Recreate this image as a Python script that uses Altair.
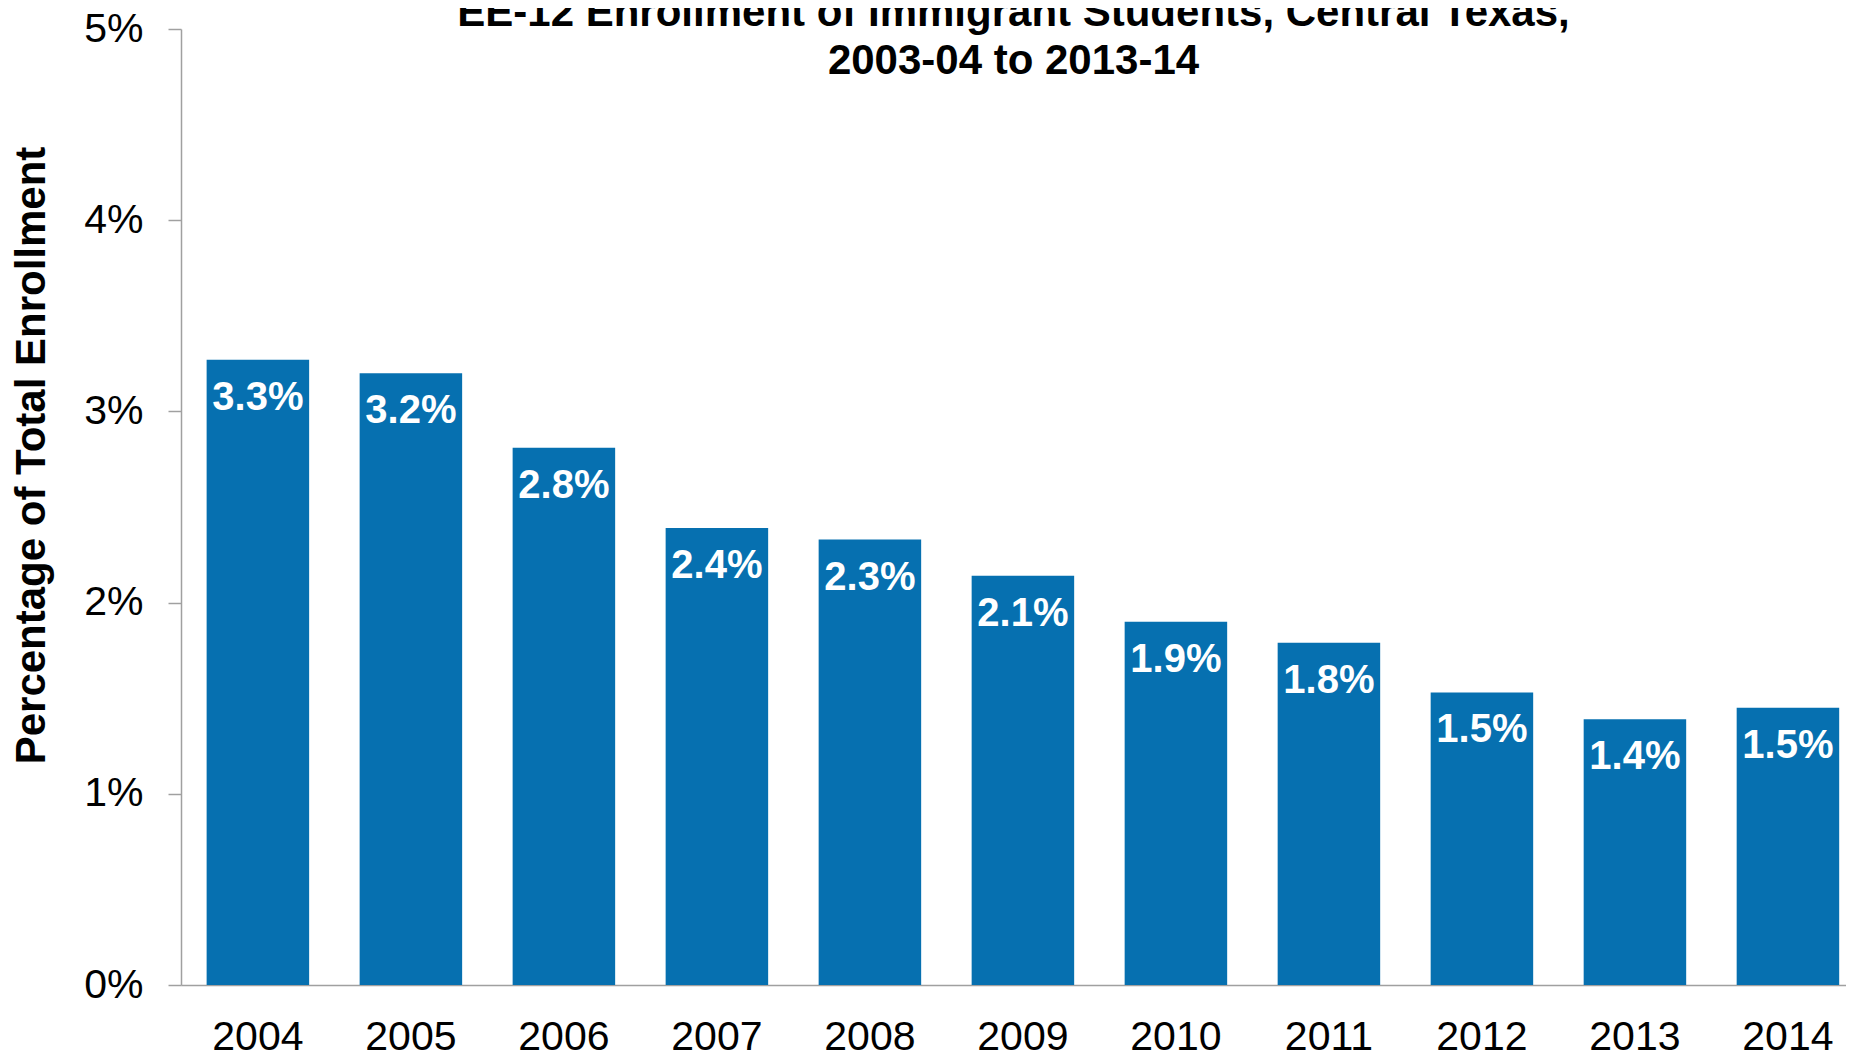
import altair as alt
import pandas as pd

# ---- data ----
years = ["2004", "2005", "2006", "2007", "2008", "2009", "2010", "2011", "2012", "2013", "2014"]
values = [3.27, 3.20, 2.81, 2.39, 2.33, 2.14, 1.90, 1.79, 1.53, 1.39, 1.45]
value_labels = ["3.3%", "3.2%", "2.8%", "2.4%", "2.3%", "2.1%", "1.9%", "1.8%", "1.5%", "1.4%", "1.5%"]
y_ticks = [0, 1, 2, 3, 4, 5]
title_lines = ["EE-12 Enrollment of Immigrant Students, Central Texas,", "2003-04 to 2013-14"]
y_title = "Percentage of Total Enrollment"

df = pd.DataFrame({"year": years, "value": values, "label": value_labels})

FONT = "Liberation Sans"
GRAY = "#A0A0A0"
BLUE = "#0670B0"

x_enc = alt.X(
    "year:N",
    sort=years,
    title=None,
    scale=alt.Scale(paddingInner=0.33, paddingOuter=0.106, align=0.79),
    axis=alt.Axis(
        labelAngle=0,
        ticks=False,
        tickSize=0,
        labelPadding=32,
        labelFontSize=41,
        labelFont=FONT,
        labelColor="black",
        domainColor=GRAY,
        domainWidth=1.5,
        grid=False,
    ),
)

y_enc = alt.Y(
    "value:Q",
    scale=alt.Scale(domain=[0, 5], nice=False, zero=True),
    axis=alt.Axis(
        values=y_ticks,
        labelExpr="datum.value + '%'",
        title=y_title,
        titleFont=FONT,
        titleFontSize=42,
        titleFontWeight="bold",
        titleColor="black",
        titleAngle=270,
        titleX=-137,
        titleY=426,
        titleAlign="center",
        titleBaseline="alphabetic",
        labelFont=FONT,
        labelFontSize=41,
        labelColor="black",
        labelPadding=25,
        tickSize=13,
        tickColor=GRAY,
        tickWidth=1.5,
        domainColor=GRAY,
        domainWidth=1.5,
        grid=False,
    ),
)

bars = alt.Chart(df).mark_bar(color=BLUE).encode(x=x_enc, y=y_enc)

text = alt.Chart(df).mark_text(
    baseline="top",
    dy=18,
    color="white",
    fontSize=40,
    fontWeight="bold",
    font=FONT,
).encode(
    x=alt.X("year:N", sort=years),
    y=alt.Y("value:Q"),
    text="label:N",
)

chart = (
    (bars + text)
    .properties(
        width=1665,
        height=956,
        padding={"left": 173, "top": 21, "right": 0, "bottom": 67},
        autosize=alt.AutoSizeParams(type="none"),
        title=alt.TitleParams(
            text=title_lines,
            font=FONT,
            fontSize=42,
            fontWeight="bold",
            color="black",
            lineHeight=48,
            anchor="middle",
            frame="group",
            offset=-75,
        ),
    )
    .configure_view(stroke=None)
)

chart.save("out.html", embed_options={"renderer": "svg", "actions": False})
